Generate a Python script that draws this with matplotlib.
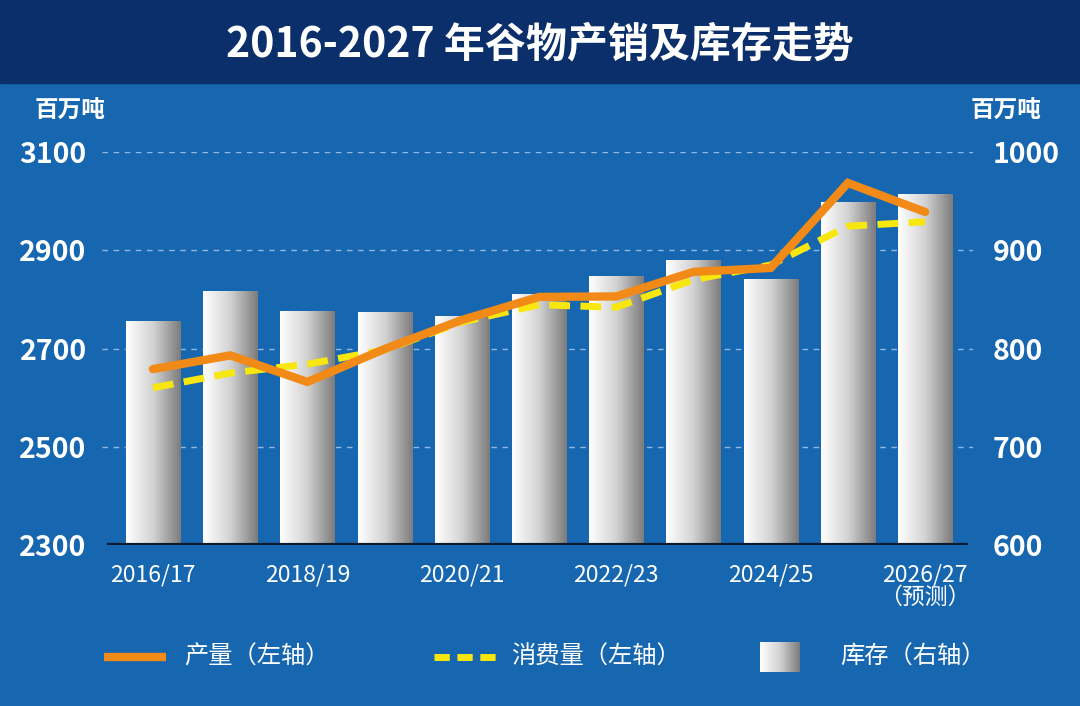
import numpy as np
import matplotlib.pyplot as plt
from matplotlib.colors import LinearSegmentedColormap
from matplotlib.patches import Rectangle
from matplotlib.lines import Line2D

plt.rcParams['font.family'] = ['Noto Sans CJK SC', 'DejaVu Sans']

seasons = ["2016/17", "2017/18", "2018/19", "2019/20", "2020/21", "2021/22",
           "2022/23", "2023/24", "2024/25", "2025/26", "2026/27"]
production = [2658, 2686, 2632, 2699, 2758, 2805, 2806, 2856, 2864, 3037, 2978]
consumption = [2620, 2650, 2668, 2697, 2754, 2789, 2784, 2840, 2870, 2949, 2958]
stocks = [827, 858, 838, 837, 833, 855, 873, 890, 870, 949, 957]
shown_ticks = [0, 2, 4, 6, 8, 10]
tick_labels = ["2016/17", "2018/19", "2020/21", "2022/23", "2024/25", "2026/27\n（预测）"]

bg = "#1766b0"
navy = "#0b2f6b"
orange = "#f28a17"
yellow = "#f7e70f"
gray_cmap = LinearSegmentedColormap.from_list("bar", ["#ffffff", "#d2d2d2", "#7c7c7c"])

fig = plt.figure(figsize=(10.8, 7.06), dpi=100, facecolor=bg)

# overlay for banner, unit labels and legend (pixel coordinates)
ov = fig.add_axes([0, 0, 1, 1], zorder=0)
ov.set_xlim(0, 1080)
ov.set_ylim(706, 0)
ov.axis("off")
ov.add_patch(Rectangle((0, 0), 1080, 83, color=navy))
ov.text(540, 44, "2016-2027 年谷物产销及库存走势", color="white", fontsize=29.5,
        fontweight="bold", ha="center", va="center")
ov.text(70, 111, "百万吨", color="white", fontsize=17, fontweight="bold",
        ha="center", va="center")
ov.text(1006, 111, "百万吨", color="white", fontsize=17, fontweight="bold",
        ha="center", va="center")

# legend
ov.add_line(Line2D([104, 166], [657, 657], color=orange, lw=6, solid_capstyle="butt"))
ov.text(184, 657, "产量（左轴）", color="white", fontsize=17.5, va="center")
ov.add_line(Line2D([434, 496], [657, 657], color=yellow, lw=5, dashes=(2.2, 1.1)))
ov.text(511, 657, "消费量（左轴）", color="white", fontsize=17.5, va="center")
grad = np.linspace(0, 1, 100).reshape(1, -1)
ov.imshow(grad, cmap=gray_cmap, extent=(760, 800, 672, 642), aspect="auto", zorder=3)
ov.text(840, 657, "库存（右轴）", color="white", fontsize=17.5, va="center")

# main axes: left = production/consumption, right = stocks
ax = fig.add_axes([102 / 1080, 1 - 545 / 706, 871 / 1080, 393 / 706], zorder=2)
ax2 = ax.twinx()
ax2.set_zorder(1)
ax.set_zorder(2)
ax.patch.set_visible(False)
ax2.patch.set_visible(False)

x = np.arange(len(seasons))
ax.set_xlim(-0.66, 10.62)
ax.set_ylim(2300, 3100)

# grid
for v in [700, 800, 900, 1000]:
    ax2.axhline(v, color="#8fb6e0", lw=1, dashes=(4, 4), zorder=0)

# gradient bars
w = 0.7
for xi, s in zip(x, stocks):
    ax2.imshow(grad, cmap=gray_cmap, extent=(xi - w / 2, xi + w / 2, 600, s),
               aspect="auto", zorder=2)
ax2.set_xlim(-0.66, 10.62)
ax2.set_ylim(600, 1000)
ax.axhline(2300, xmin=0.008, xmax=0.992, color="#0d1a2e", lw=3, zorder=5)

ax.plot(x, consumption, color=yellow, lw=5, dashes=(3, 1.5), zorder=3)
ax.plot(x, production, color=orange, lw=6, solid_capstyle="round",
        solid_joinstyle="miter", zorder=4)

for a in (ax, ax2):
    for sp in a.spines.values():
        sp.set_visible(False)

ax.set_yticks([2300, 2500, 2700, 2900, 3100])
ax2.set_yticks([600, 700, 800, 900, 1000])
ax.tick_params(axis="y", length=0, pad=11, labelsize=20.5, labelcolor="white")
ax2.tick_params(axis="y", length=0, pad=14, labelsize=20.5, labelcolor="white")
for lab in ax.get_yticklabels() + ax2.get_yticklabels():
    lab.set_fontweight("bold")

ax.set_xticks(shown_ticks)
ax.set_xticklabels(tick_labels, color="white", fontsize=16.5, linespacing=1.0, va="top")
ax.tick_params(axis="x", length=0, pad=13)

fig.savefig("out.png", dpi=100, facecolor=bg)
